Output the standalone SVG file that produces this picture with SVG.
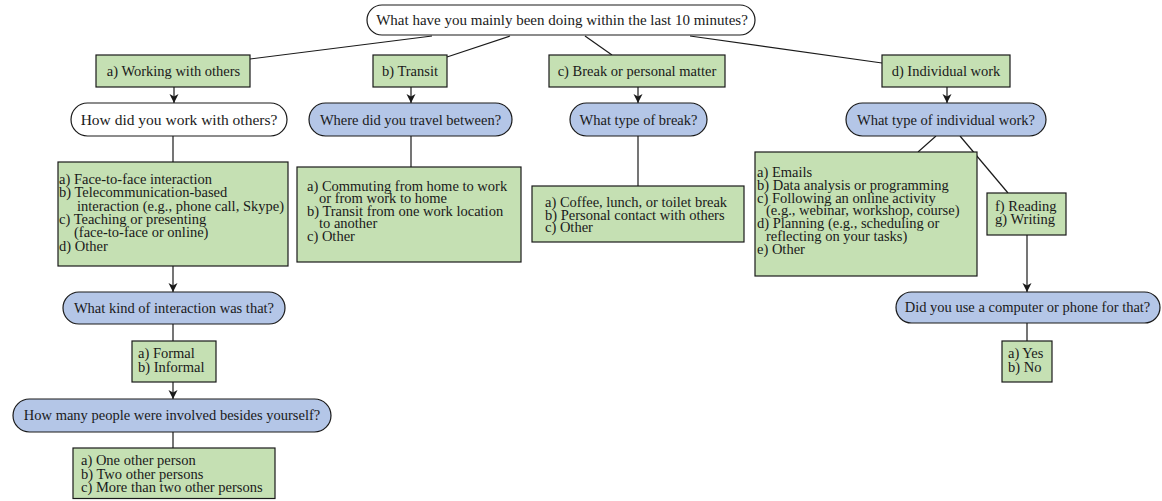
<svg xmlns="http://www.w3.org/2000/svg" width="1162" height="501" viewBox="0 0 1162 501">
<style>
text{font-family:"Liberation Serif","Times New Roman",serif;font-size:14.5px;fill:#1a1a1a}
.c{text-anchor:middle}
.box{fill:#c5e0b3;stroke:#1a1a1a;stroke-width:1.2}
.q{fill:#b4c6e7;stroke:#1a1a1a;stroke-width:1.2}
.w{fill:#ffffff;stroke:#1a1a1a;stroke-width:1.2}
.ln{stroke:#1a1a1a;stroke-width:1.2;fill:none}
.ar{marker-end:url(#ah)}
</style>
<defs>
<marker id="ah" viewBox="-10 -5 10 10" refX="0" refY="0" markerWidth="10" markerHeight="10" markerUnits="userSpaceOnUse" orient="auto">
<path d="M0,0 L-9,-4.5 L-6.5,0 L-9,4.5 z" fill="#1a1a1a"/>
</marker>
</defs>
<rect width="1162" height="501" fill="#ffffff"/>
<g id="connectors">
<line class="ln" x1="432" y1="36" x2="250" y2="59"/>
<line class="ln" x1="510" y1="36" x2="447" y2="57"/>
<line class="ln" x1="585" y1="36" x2="612" y2="55"/>
<line class="ln" x1="690" y1="36" x2="882" y2="63"/>
<line class="ln ar" x1="174" y1="87" x2="174" y2="103"/>
<line class="ln" x1="173" y1="136" x2="173" y2="162"/>
<line class="ln ar" x1="173" y1="266" x2="173" y2="292"/>
<line class="ln" x1="173" y1="324" x2="173" y2="341"/>
<line class="ln ar" x1="173" y1="382" x2="173" y2="399"/>
<line class="ln" x1="173" y1="432" x2="173" y2="448"/>
<line class="ln ar" x1="411" y1="87" x2="411" y2="103"/>
<line class="ln" x1="411" y1="136" x2="411" y2="167"/>
<line class="ln ar" x1="638" y1="87" x2="638" y2="103"/>
<line class="ln" x1="638" y1="136" x2="638" y2="186"/>
<line class="ln ar" x1="947" y1="87" x2="947" y2="103"/>
<line class="ln" x1="936" y1="136" x2="918" y2="152"/>
<line class="ln" x1="960" y1="136" x2="1008" y2="193"/>
<line class="ln ar" x1="1027" y1="235" x2="1027" y2="292"/>
<line class="ln" x1="1027" y1="323" x2="1027" y2="341"/>
</g>
<g id="q-top">
<rect class="w" x="367" y="5" width="388" height="30" rx="15"/>
<text class="c" x="562" y="25" style="font-size:15px">What have you mainly been doing within the last 10 minutes?</text>
</g>
<g id="a-working">
<rect class="box" x="96" y="55" width="154" height="32"/>
<text class="c" x="173.5" y="75.5">a) Working with others</text>
</g>
<g id="b-transit">
<rect class="box" x="373" y="55" width="74" height="32"/>
<text class="c" x="410" y="75.5">b) Transit</text>
</g>
<g id="c-break">
<rect class="box" x="549" y="55" width="176" height="32"/>
<text class="c" x="637" y="75.5">c) Break or personal matter</text>
</g>
<g id="d-individual">
<rect class="box" x="882" y="55" width="128" height="32"/>
<text class="c" x="946" y="75.5">d) Individual work</text>
</g>
<g id="q-how-work">
<rect class="w" x="71" y="103" width="216" height="33" rx="16.5"/>
<text class="c" x="179" y="124.5" style="font-size:15.5px">How did you work with others?</text>
</g>
<g id="q-travel">
<rect class="q" x="309" y="103" width="203" height="33" rx="16.5"/>
<text class="c" x="410.5" y="124.5">Where did you travel between?</text>
</g>
<g id="q-break">
<rect class="q" x="570" y="103" width="137" height="33" rx="16.5"/>
<text class="c" x="638.5" y="124.5">What type of break?</text>
</g>
<g id="q-individual">
<rect class="q" x="846" y="103" width="200" height="33" rx="16.5"/>
<text class="c" x="946" y="124.5">What type of individual work?</text>
</g>
<g id="opt-working">
<rect class="box" x="58" y="162" width="230" height="104"/>
<text x="59" y="184">a) Face-to-face interaction</text>
<text x="59" y="197.3">b) Telecommunication-based</text>
<text x="77" y="210.6">interaction (e.g., phone call, Skype)</text>
<text x="59" y="223.9">c) Teaching or presenting</text>
<text x="74" y="237.2">(face-to-face or online)</text>
<text x="59" y="250.5">d) Other</text>
</g>
<g id="opt-transit">
<rect class="box" x="297" y="167" width="224" height="95"/>
<text x="307" y="190.5">a) Commuting from home to work</text>
<text x="319" y="203">or from work to home</text>
<text x="307" y="215.5">b) Transit from one work location</text>
<text x="319" y="228">to another</text>
<text x="307" y="240.5">c) Other</text>
</g>
<g id="opt-break">
<rect class="box" x="532" y="186" width="212" height="56"/>
<text x="545" y="207">a) Coffee, lunch, or toilet break</text>
<text x="545" y="219.5">b) Personal contact with others</text>
<text x="545" y="232">c) Other</text>
</g>
<g id="opt-individual">
<rect class="box" x="755" y="152" width="222" height="124"/>
<text x="757" y="177">a) Emails</text>
<text x="757" y="189.8">b) Data analysis or programming</text>
<text x="757" y="202.6">c) Following an online activity</text>
<text x="766" y="215.4">(e.g., webinar, workshop, course)</text>
<text x="757" y="228.2">d) Planning (e.g., scheduling or</text>
<text x="766" y="241">reflecting on your tasks)</text>
<text x="757" y="253.8">e) Other</text>
</g>
<g id="opt-reading">
<rect class="box" x="987" y="193" width="79" height="42"/>
<text x="995" y="211">f) Reading</text>
<text x="995" y="224">g) Writing</text>
</g>
<g id="q-computer">
<rect class="q" x="896" y="292" width="264" height="31" rx="15.5"/>
<text class="c" x="1027.5" y="312">Did you use a computer or phone for that?</text>
</g>
<g id="opt-yesno">
<rect class="box" x="1002" y="341" width="50" height="41"/>
<text x="1008" y="358">a) Yes</text>
<text x="1008" y="371.5">b) No</text>
</g>
<g id="q-interaction">
<rect class="q" x="63" y="292" width="222" height="32" rx="16"/>
<text class="c" x="174" y="312.5">What kind of interaction was that?</text>
</g>
<g id="opt-formal">
<rect class="box" x="132" y="341" width="84" height="41"/>
<text x="138" y="358">a) Formal</text>
<text x="138" y="371.5">b) Informal</text>
</g>
<g id="q-people">
<rect class="q" x="13" y="399" width="318" height="33" rx="16.5"/>
<text class="c" x="172" y="420">How many people were involved besides yourself?</text>
</g>
<g id="opt-people">
<rect class="box" x="73" y="448" width="202" height="50.5"/>
<text x="81" y="465">a) One other person</text>
<text x="81" y="478.5">b) Two other persons</text>
<text x="81" y="492">c) More than two other persons</text>
</g>
</svg>
